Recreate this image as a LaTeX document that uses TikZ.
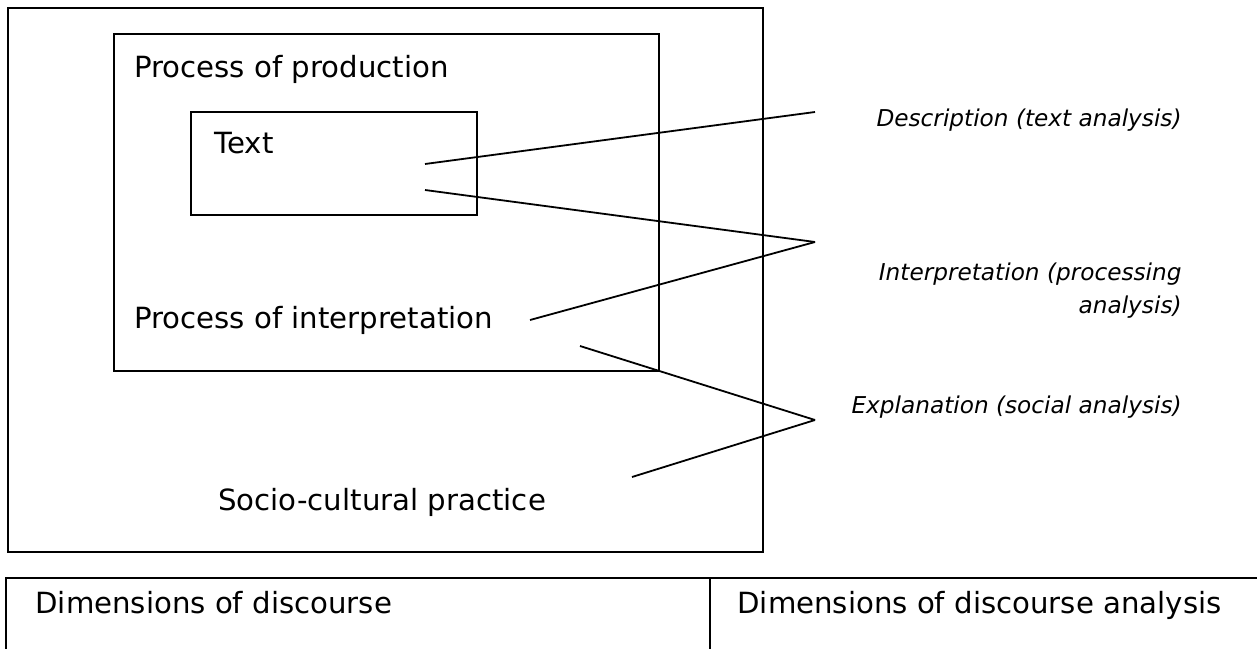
\documentclass[tikz,border=0pt]{standalone}
\usepackage{fontspec}
\setmainfont{DejaVu Sans}

\begin{document}
\begin{tikzpicture}
[x=0.5pt,y=-0.5pt,
  boxDecorate/.style={draw,line width=0.9pt},%
  mainText/.style={anchor=base west,inner sep=0pt,font=\fontsize{14.6}{17}\selectfont},%
  sideText/.style={anchor=base east,inner sep=0pt,align=right,font=\fontsize{11.6}{16.5}\selectfont\itshape},%
  lineDecorate/.style={-,line width=0.9pt}]
\useasboundingbox (0,0) rectangle (1257,648);
%% boxes
\draw[boxDecorate] (8,8) rectangle (763,552);
\draw[boxDecorate] (114,34) rectangle (659,371);
\draw[boxDecorate] (191,112) rectangle (477,215);
\draw[boxDecorate] (6,578) rectangle (1262,660);
\draw[boxDecorate] (710,578) -- (710,660);
%% texts in the boxes
\foreach \nodename/\x/\y/\txt in {
  production/134/77/Process of production,
  text/214/153/Text,
  interpretation/134/328/Process of interpretation,
  practice/218/510/Socio-cultural practice,
  discourse/35/613/Dimensions of discourse,
  analysis/737/613/Dimensions of discourse analysis}
{
  \node (\nodename) at (\x,\y) [mainText] {\txt};
}
%% labels on the right
\node (description) at (1182,126) [sideText] {Description (text analysis)};
\node (processing) at (1182,313) [sideText] {Interpretation (processing\\analysis)};
\node (explanation) at (1182,413) [sideText] {Explanation (social analysis)};
%% ends of the lines
\foreach \nodename/\x/\y in {
  t1/425/164, t2/425/190, i1/530/320, s1/580/346, s2/632/477,
  d/815/112, p/815/242, e/815/420}
{
  \coordinate (\nodename) at (\x,\y);
}
%% lines
\path
\foreach \startnode/\endnode in {
  t1/d, t2/p, i1/p, s1/e, s2/e}
{
  (\startnode) edge[lineDecorate] (\endnode)
};
\end{tikzpicture}
\end{document}
